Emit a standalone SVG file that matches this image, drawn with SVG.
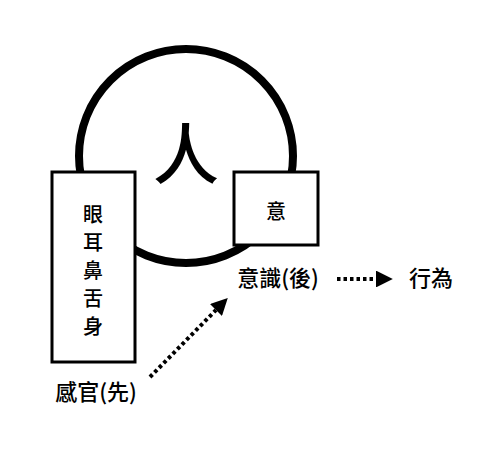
<svg xmlns="http://www.w3.org/2000/svg" width="489" height="459" viewBox="0 0 489 459">
<style>
.t{font-family:"Noto Sans CJK TC","Noto Sans CJK SC",sans-serif;fill:#000;text-anchor:middle;font-weight:500}
.box{fill:#fff;stroke:#000;stroke-width:3}
.lbl{font-size:22px}
.dot{stroke:#000;stroke-width:4;stroke-dasharray:3.5 3;fill:none}
</style>
<defs>
<marker id="ah" viewBox="0 0 10 10" refX="0" refY="5" markerWidth="4.6" markerHeight="4.2" markerUnits="strokeWidth" orient="auto">
<path d="M0,0 L10,5 L0,10 Z" fill="#000"/>
</marker>
</defs>
<g id="person">
<circle cx="186" cy="156" r="107" fill="none" stroke="#000" stroke-width="8"/>
<text class="t" x="186" y="179" font-size="66" font-weight="400">人</text>
</g>
<g id="senses">
<rect class="box" x="52" y="172" width="83" height="190"/>
<text class="t" x="93" y="222" font-size="20">眼</text>
<text class="t" x="93" y="250" font-size="20">耳</text>
<text class="t" x="93" y="278" font-size="20">鼻</text>
<text class="t" x="93" y="306" font-size="20">舌</text>
<text class="t" x="93" y="334" font-size="20">身</text>
</g>
<g id="mind">
<rect class="box" x="234" y="172" width="84" height="73"/>
<text class="t" x="276" y="219" font-size="20">意</text>
</g>
<g id="consciousness">
<text class="t lbl" x="278" y="286">意識(後)</text>
</g>
<g id="action">
<text class="t lbl" x="431" y="286">行為</text>
</g>
<g id="sensory">
<text class="t lbl" x="96" y="400">感官(先)</text>
</g>
<g id="connectors">
<line class="dot" x1="150" y1="377" x2="216" y2="310" marker-end="url(#ah)"/>
<line class="dot" x1="337" y1="279" x2="376" y2="279" marker-end="url(#ah)"/>
</g>
</svg>
